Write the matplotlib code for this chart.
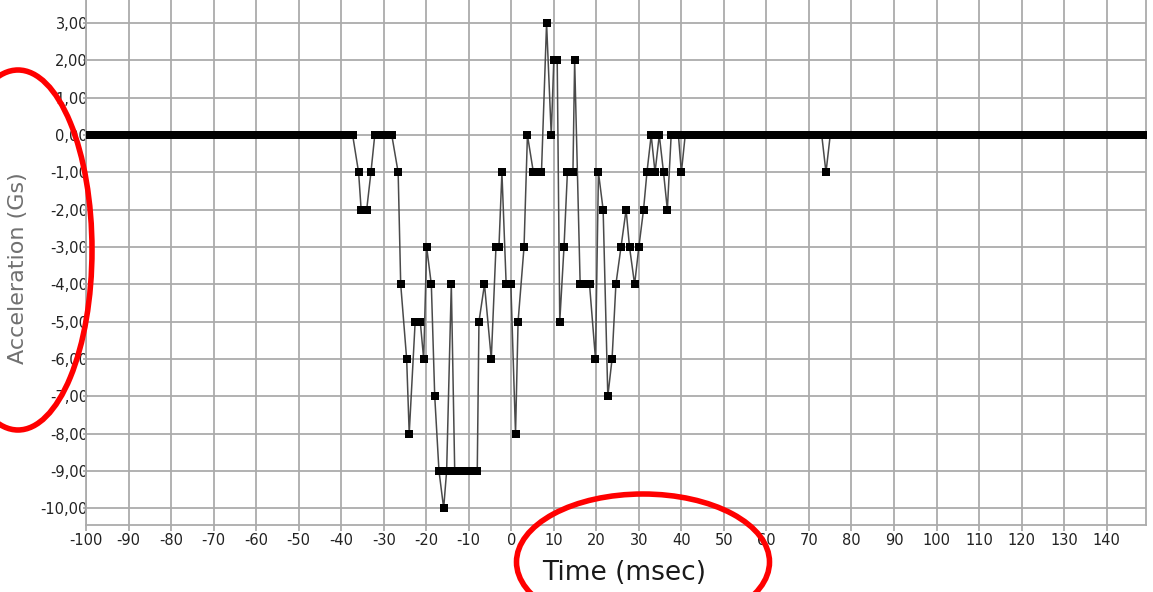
import matplotlib
matplotlib.use('Agg')
import matplotlib.pyplot as plt
from matplotlib.patches import Ellipse

plt.rcParams['axes.unicode_minus'] = False

# accelerometer trace, one sample per msec outside the event
pre_t = list(range(-100, -37))
pre_g = [0] * 63

# event window, times as recorded
act_t = [-37.3, -35.9, -35.3, -34.0, -33.0, -32.1, -31.1, -30.1, -29.1, -28.1,
         -26.6, -26.0, -24.6, -24.0, -22.6, -21.4, -20.6, -19.9, -18.8, -18.0,
         -17.0, -15.9, -15.2, -14.1, -13.3, -12.2, -11.2, -10.1, -9.0, -8.0,
         -7.6, -6.3, -4.7, -3.6, -2.9, -2.2, -1.2, -0.1, 1.0, 1.6,
         3.0, 3.8, 5.2, 7.1, 8.3, 9.4, 10.0, 10.8, 11.4, 12.4,
         13.2, 14.5, 14.9, 16.2, 17.3, 18.4, 19.8, 20.5, 21.6, 22.7,
         23.7, 24.6, 25.8, 27.0, 27.8, 29.0, 30.0, 31.1, 31.9, 32.9,
         33.8, 34.8, 35.8, 36.7, 37.6, 38.6, 39.3, 40.0, 40.9]
act_g = [0, -1, -2, -2, -1, 0, 0, 0, 0, 0,
         -1, -4, -6, -8, -5, -5, -6, -3, -4, -7,
         -9, -10, -9, -4, -9, -9, -9, -9, -9, -9,
         -5, -4, -6, -3, -3, -1, -4, -4, -8, -5,
         -3, 0, -1, -1, 3, 0, 2, 2, -5, -3,
         -1, -1, 2, -4, -4, -4, -6, -1, -2, -7,
         -6, -4, -3, -2, -3, -4, -3, -2, -1, 0,
         -1, 0, -1, -2, 0, 0, 0, -1, 0]

post_t = list(range(42, 150))
post_g = [0] * 32 + [-1] + [0] * 75

x_ticks = list(range(-100, 150, 10))
y_ticks = list(range(-10, 4))
y_labels = ['%d,00' % v for v in y_ticks]

W, H = 1153, 592
fig = plt.figure(figsize=(W / 100, H / 100), dpi=100)
ax = fig.add_axes([86 / W, 67 / H, 1060 / W, 525 / H])

time = pre_t + act_t + post_t
accel = pre_g + act_g + post_g
ax.plot(time, accel, color='#4a4a4a', lw=1.1, marker='s', ms=5.5,
        mfc='black', mec='black', mew=0, zorder=3)

ax.set_xlim(-100, 149.25)
ax.set_ylim(-10.45, 3.62)
ax.set_xticks(x_ticks)
ax.set_yticks(y_ticks)
ax.set_yticklabels(y_labels)

gcol = '#ababab'
ax.grid(True, color=gcol, lw=1.3)
ax.set_axisbelow(True)
for side in ['left', 'bottom', 'right']:
    ax.spines[side].set_color(gcol)
    ax.spines[side].set_linewidth(1.3)
ax.spines['top'].set_visible(False)

ax.tick_params(axis='x', length=4, width=1.3, color=gcol, pad=2,
               labelsize=10.5, labelcolor='#222222')
ax.tick_params(axis='y', length=2, width=1.3, color=gcol, pad=-3.5,
               labelsize=10.5, labelcolor='#222222')

fig.text(18 / W, 1 - 268 / H, 'Acceleration (Gs)', rotation=90,
         ha='center', va='center', fontsize=16, color='#707070')
fig.text(624 / W, 1 - 573 / H, 'Time (msec)', ha='center', va='center',
         fontsize=19, color='#1a1a1a')

# red highlight rings on top of everything, in pixel coordinates
over = fig.add_axes([0, 0, 1, 1])
over.set_xlim(0, W)
over.set_ylim(H, 0)
over.axis('off')
over.patch.set_alpha(0)
over.add_patch(Ellipse((18, 250), 148, 360, fill=False, ec='red', lw=4, clip_on=False))
over.add_patch(Ellipse((643, 562), 253, 136, fill=False, ec='red', lw=4, clip_on=False))

fig.savefig('out.png', dpi=100)
